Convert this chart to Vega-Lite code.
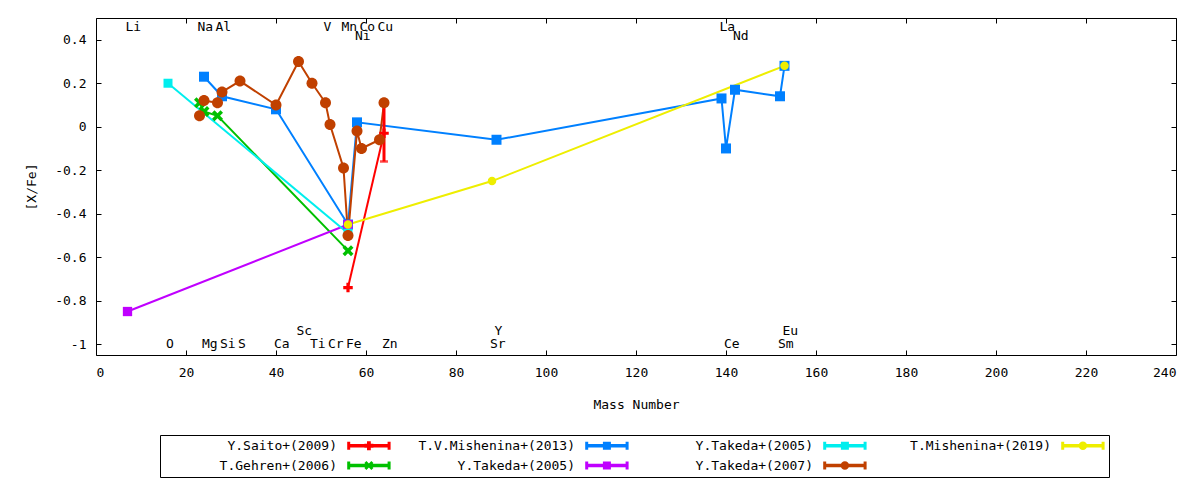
{
  "$schema": "https://vega.github.io/schema/vega-lite/v6.json",
  "width": 1080,
  "height": 337,
  "autosize": {"type": "none"},
  "padding": {"left": 96, "top": 18, "right": 24, "bottom": 125},
  "background": "white",
  "config": {
    "view": {"stroke": "black", "strokeWidth": 1},
    "font": "DejaVu Sans Mono",
    "axis": {
      "grid": false, "domain": false,
      "tickColor": "black", "tickSize": -5, "tickWidth": 1,
      "labelColor": "black", "labelFont": "DejaVu Sans Mono", "labelFontSize": 13,
      "titleColor": "black", "titleFont": "DejaVu Sans Mono", "titleFontSize": 13, "titleFontWeight": "normal"
    }
  },
  "datasets": {
    "series": [
      {"set": "Y.Saito+(2009)", "mass": 56, "v": -0.74},
      {"set": "Y.Saito+(2009)", "mass": 64, "v": -0.03, "lo": -0.16, "hi": 0.1},
      {"set": "T.Gehren+(2006)", "mass": 23, "v": 0.11},
      {"set": "T.Gehren+(2006)", "mass": 24, "v": 0.07},
      {"set": "T.Gehren+(2006)", "mass": 27, "v": 0.05},
      {"set": "T.Gehren+(2006)", "mass": 56, "v": -0.57},
      {"set": "T.V.Mishenina+(2013)", "mass": 24, "v": 0.23},
      {"set": "T.V.Mishenina+(2013)", "mass": 28, "v": 0.14},
      {"set": "T.V.Mishenina+(2013)", "mass": 40, "v": 0.08},
      {"set": "T.V.Mishenina+(2013)", "mass": 56, "v": -0.45},
      {"set": "T.V.Mishenina+(2013)", "mass": 58, "v": 0.02},
      {"set": "T.V.Mishenina+(2013)", "mass": 89, "v": -0.06},
      {"set": "T.V.Mishenina+(2013)", "mass": 139, "v": 0.13},
      {"set": "T.V.Mishenina+(2013)", "mass": 140, "v": -0.1},
      {"set": "T.V.Mishenina+(2013)", "mass": 142, "v": 0.17},
      {"set": "T.V.Mishenina+(2013)", "mass": 152, "v": 0.14},
      {"set": "T.V.Mishenina+(2013)", "mass": 153, "v": 0.28},
      {"set": "Y.Takeda+(2005) [Li]", "mass": 7, "v": -0.85},
      {"set": "Y.Takeda+(2005) [Li]", "mass": 56, "v": -0.45},
      {"set": "Y.Takeda+(2005) [O]", "mass": 16, "v": 0.2},
      {"set": "Y.Takeda+(2005) [O]", "mass": 56, "v": -0.49},
      {"set": "Y.Takeda+(2007)", "mass": 23, "v": 0.05},
      {"set": "Y.Takeda+(2007)", "mass": 24, "v": 0.12},
      {"set": "Y.Takeda+(2007)", "mass": 27, "v": 0.11},
      {"set": "Y.Takeda+(2007)", "mass": 28, "v": 0.16},
      {"set": "Y.Takeda+(2007)", "mass": 32, "v": 0.21},
      {"set": "Y.Takeda+(2007)", "mass": 40, "v": 0.1},
      {"set": "Y.Takeda+(2007)", "mass": 45, "v": 0.3},
      {"set": "Y.Takeda+(2007)", "mass": 48, "v": 0.2},
      {"set": "Y.Takeda+(2007)", "mass": 51, "v": 0.11},
      {"set": "Y.Takeda+(2007)", "mass": 52, "v": 0.01},
      {"set": "Y.Takeda+(2007)", "mass": 55, "v": -0.19},
      {"set": "Y.Takeda+(2007)", "mass": 56, "v": -0.5},
      {"set": "Y.Takeda+(2007)", "mass": 58, "v": -0.02},
      {"set": "Y.Takeda+(2007)", "mass": 59, "v": -0.1},
      {"set": "Y.Takeda+(2007)", "mass": 63, "v": -0.06},
      {"set": "Y.Takeda+(2007)", "mass": 64, "v": 0.11},
      {"set": "T.Mishenina+(2019)", "mass": 56, "v": -0.45},
      {"set": "T.Mishenina+(2019)", "mass": 88, "v": -0.25},
      {"set": "T.Mishenina+(2019)", "mass": 153, "v": 0.28}
    ],
    "elements": [
      {"el": "Li", "mass": 7, "v": 0.46},
      {"el": "Na", "mass": 23, "v": 0.46},
      {"el": "Al", "mass": 27, "v": 0.46},
      {"el": "V", "mass": 51, "v": 0.46},
      {"el": "Mn", "mass": 55, "v": 0.46},
      {"el": "Co", "mass": 59, "v": 0.46},
      {"el": "Cu", "mass": 63, "v": 0.46},
      {"el": "La", "mass": 139, "v": 0.46},
      {"el": "Ni", "mass": 58, "v": 0.415},
      {"el": "Nd", "mass": 142, "v": 0.415},
      {"el": "O", "mass": 16, "v": -1.0},
      {"el": "Mg", "mass": 24, "v": -1.0},
      {"el": "Si", "mass": 28, "v": -1.0},
      {"el": "S", "mass": 32, "v": -1.0},
      {"el": "Ca", "mass": 40, "v": -1.0},
      {"el": "Ti", "mass": 48, "v": -1.0},
      {"el": "Cr", "mass": 52, "v": -1.0},
      {"el": "Fe", "mass": 56, "v": -1.0},
      {"el": "Zn", "mass": 64, "v": -1.0},
      {"el": "Sr", "mass": 88, "v": -1.0},
      {"el": "Ce", "mass": 140, "v": -1.0},
      {"el": "Sm", "mass": 152, "v": -1.0},
      {"el": "Sc", "mass": 45, "v": -0.94},
      {"el": "Y", "mass": 89, "v": -0.94},
      {"el": "Eu", "mass": 153, "v": -0.94}
    ]
  },
  "layer": [
    {
      "data": {"name": "series"},
      "mark": {"type": "line", "strokeWidth": 2},
      "encoding": {
        "x": {
          "field": "mass", "type": "quantitative",
          "scale": {"domain": [0, 240], "nice": false, "zero": false},
          "axis": {"values": [0, 20, 40, 60, 80, 100, 120, 140, 160, 180, 200, 220, 240], "title": "Mass Number", "labelPadding": 16, "titlePadding": 19}
        },
        "y": {
          "field": "v", "type": "quantitative",
          "scale": {"domain": [-1.05, 0.5], "nice": false, "zero": false},
          "axis": {"values": [-1, -0.8, -0.6, -0.4, -0.2, 0, 0.2, 0.4], "labelExpr": "'' + datum.value", "title": "[X/Fe]", "labelPadding": 15, "titlePadding": 16}
        },
        "color": {
          "field": "set", "type": "nominal",
          "scale": {
            "domain": ["Y.Saito+(2009)", "T.Gehren+(2006)", "T.V.Mishenina+(2013)", "Y.Takeda+(2005) [Li]", "Y.Takeda+(2005) [O]", "Y.Takeda+(2007)", "T.Mishenina+(2019)"],
            "range": ["#ff0000", "#00c000", "#0080ff", "#c000ff", "#00eeee", "#c04000", "#eeee00"]
          },
          "legend": {
            "orient": "none", "legendX": 64, "legendY": 417,
            "columns": 4, "columnPadding": 11, "rowPadding": 6,
            "title": null, "strokeColor": "black", "padding": 4,
            "labelAlign": "right", "labelOffset": 160, "labelLimit": 400,
            "labelFont": "DejaVu Sans Mono", "labelFontSize": 13, "labelColor": "black",
            "labelExpr": "replace(replace(datum.label, ' [Li]', ''), ' [O]', '')",
            "symbolSize": 100, "symbolStrokeWidth": 0,
            "encode": {
              "symbols": {
                "update": {
                  "shape": {"signal": "datum.value === 'Y.Saito+(2009)' ? 'M35.34,-0.35H44.02V0.35H35.34Z M35.34,-0.8H35.94V0.8H35.34Z M43.42,-0.8H44.02V0.8H43.42Z M38.78,-0.38H40.58V0.38H38.78Z M39.3,-0.9H40.06V0.9H39.3Z' : datum.value === 'T.Gehren+(2006)' ? 'M35.34,-0.35H44.02V0.35H35.34Z M35.34,-0.8H35.94V0.8H35.34Z M43.42,-0.8H44.02V0.8H43.42Z M38.78,-0.5L39.18,-0.9L39.68,-0.4L40.18,-0.9L40.58,-0.5L40.08,0L40.58,0.5L40.18,0.9L39.68,0.4L39.18,0.9L38.78,0.5L39.28,0Z' : (datum.value === 'Y.Takeda+(2007)' || datum.value === 'T.Mishenina+(2019)') ? 'M35.34,-0.35H44.02V0.35H35.34Z M35.34,-0.8H35.94V0.8H35.34Z M43.42,-0.8H44.02V0.8H43.42Z M38.83,0A0.85,0.85,0,1,1,40.53,0A0.85,0.85,0,1,1,38.83,0Z' : 'M35.34,-0.35H44.02V0.35H35.34Z M35.34,-0.8H35.94V0.8H35.34Z M43.42,-0.8H44.02V0.8H43.42Z M38.88,-0.8H40.48V0.8H38.88Z'"},
                  "fill": {"scale": "color", "field": "value"},
                  "stroke": {"value": "transparent"},
                  "opacity": {"value": 1}
                }
              }
            }
          }
        },
        "order": {"field": "mass", "type": "quantitative"}
      }
    },
    {
      "data": {"name": "series"},
      "transform": [{"filter": "isValid(datum.lo)"}],
      "mark": {"type": "rule", "color": "#ff0000", "strokeWidth": 3},
      "encoding": {
        "x": {"field": "mass", "type": "quantitative", "axis": null},
        "y": {"field": "lo", "type": "quantitative", "axis": null},
        "y2": {"field": "hi"}
      }
    },
    {
      "data": {"name": "series"},
      "transform": [{"filter": "isValid(datum.lo)"}],
      "mark": {"type": "tick", "color": "#ff0000", "orient": "horizontal", "size": 8, "thickness": 2.5},
      "encoding": {
        "x": {"field": "mass", "type": "quantitative", "axis": null},
        "y": {"field": "lo", "type": "quantitative", "axis": null}
      }
    },
    {
      "data": {"name": "series"},
      "transform": [{"filter": "isValid(datum.hi)"}],
      "mark": {"type": "tick", "color": "#ff0000", "orient": "horizontal", "size": 8, "thickness": 2.5},
      "encoding": {
        "x": {"field": "mass", "type": "quantitative", "axis": null},
        "y": {"field": "hi", "type": "quantitative", "axis": null}
      }
    },
    {
      "data": {"name": "series"},
      "mark": {"type": "point", "filled": true, "opacity": 1, "size": 100},
      "encoding": {
        "x": {
          "field": "mass", "type": "quantitative",
          "axis": {"orient": "top", "labels": false, "title": null, "values": [0, 20, 40, 60, 80, 100, 120, 140, 160, 180, 200, 220, 240]}
        },
        "y": {
          "field": "v", "type": "quantitative",
          "axis": {"orient": "right", "labels": false, "title": null, "values": [-1, -0.8, -0.6, -0.4, -0.2, 0, 0.2, 0.4]}
        },
        "color": {"field": "set", "type": "nominal"},
        "shape": {
          "field": "set", "type": "nominal", "legend": null,
          "scale": {
            "domain": ["T.Mishenina+(2019)", "Y.Takeda+(2007)", "Y.Takeda+(2005) [O]", "Y.Takeda+(2005) [Li]", "T.V.Mishenina+(2013)", "T.Gehren+(2006)", "Y.Saito+(2009)"],
            "range": [
              "M-0.85,0A0.85,0.85,0,1,1,0.85,0A0.85,0.85,0,1,1,-0.85,0Z",
              "M-1.1,0A1.1,1.1,0,1,1,1.1,0A1.1,1.1,0,1,1,-1.1,0Z",
              "M-0.9,-0.9H0.9V0.9H-0.9Z",
              "M-0.93,-0.93H0.93V0.93H-0.93Z",
              "M-1,-1H1V1H-1Z",
              "M-1.1,-0.6L-0.6,-1.1L0,-0.5L0.6,-1.1L1.1,-0.6L0.5,0L1.1,0.6L0.6,1.1L0,0.5L-0.6,1.1L-1.1,0.6L-0.5,0Z",
              "M-0.95,-0.32H0.95V0.32H-0.95Z M-0.32,-0.95H0.32V0.95H-0.32Z"
            ]
          }
        }
      }
    },
    {
      "data": {"name": "elements"},
      "mark": {"type": "text", "align": "left", "baseline": "middle", "dx": -2, "font": "DejaVu Sans Mono", "fontSize": 13, "color": "black"},
      "encoding": {
        "x": {"field": "mass", "type": "quantitative", "axis": null},
        "y": {"field": "v", "type": "quantitative", "axis": null},
        "text": {"field": "el"}
      }
    }
  ],
  "resolve": {"axis": {"x": "independent", "y": "independent"}}
}
